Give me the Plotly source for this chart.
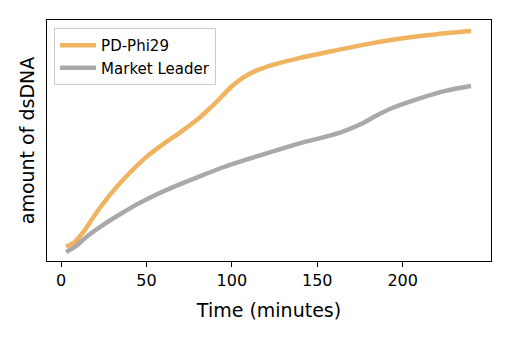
import plotly.graph_objects as go

# Time points (minutes) and relative dsDNA amounts (arbitrary units)
time_pd = [3, 8, 14, 20, 30, 40, 50, 60, 70, 80, 90, 100, 107, 115, 125,
           140, 160, 180, 200, 220, 240]
pd_phi29 = [5.9, 7.9, 12.9, 19.3, 28.6, 36.4, 43.2, 48.6, 53.5, 58.8, 65.3,
            72.5, 76.3, 79.2, 81.6, 84.3, 87.3, 90.1, 92.4, 94.1, 95.4]

time_ml = [3, 8, 16, 26, 36, 45, 55, 68, 80, 95, 110, 125, 140, 155, 165,
           175, 185, 195, 210, 225, 240]
market_leader = [3.7, 5.8, 10.6, 15.6, 20.0, 23.7, 27.3, 31.4, 34.8, 38.9,
                 42.4, 45.7, 48.9, 51.6, 53.7, 56.6, 60.5, 63.8, 67.5, 70.6, 72.6]

series_names = ["PD-Phi29", "Market Leader"]
series_colors = ["#F0B35F", "#A9A9A9"]

fig = go.Figure()
for name, xs, ys, color in [
    (series_names[0], time_pd, pd_phi29, series_colors[0]),
    (series_names[1], time_ml, market_leader, series_colors[1]),
]:
    fig.add_trace(go.Scatter(
        x=xs, y=ys, mode="lines", name=name,
        line=dict(color=color, width=4.5, shape="spline", smoothing=0.8),
    ))

font_family = "DejaVu Sans"

fig.update_layout(
    width=512, height=341,
    margin=dict(l=47, r=21, t=20, b=80),
    paper_bgcolor="white", plot_bgcolor="white",
    font=dict(family=font_family, color="black", size=16),
    showlegend=True,
    legend=dict(
        x=0.016, y=0.967, xanchor="left", yanchor="top",
        bgcolor="rgba(255,255,255,0.8)", bordercolor="#CCCCCC", borderwidth=1,
        font=dict(size=15, family=font_family), tracegroupgap=0,
        itemwidth=36,
    ),
    xaxis=dict(
        range=[-8.2, 251.7],
        tickvals=[0, 50, 100, 150, 200],
        ticks="outside", ticklen=5, tickwidth=1.3, tickcolor="black",
        showline=True, linecolor="black", linewidth=1.3, mirror=True,
        showgrid=False, zeroline=False,
        tickfont=dict(size=16),
        title=dict(text="Time (minutes)", font=dict(size=19), standoff=14),
    ),
    yaxis=dict(
        range=[0, 100],
        showticklabels=False, ticks="",
        showline=True, linecolor="black", linewidth=1.3, mirror=True,
        showgrid=False, zeroline=False,
        title=dict(text="amount of dsDNA", font=dict(size=19), standoff=6),
    ),
)

fig.write_html("out.html")
